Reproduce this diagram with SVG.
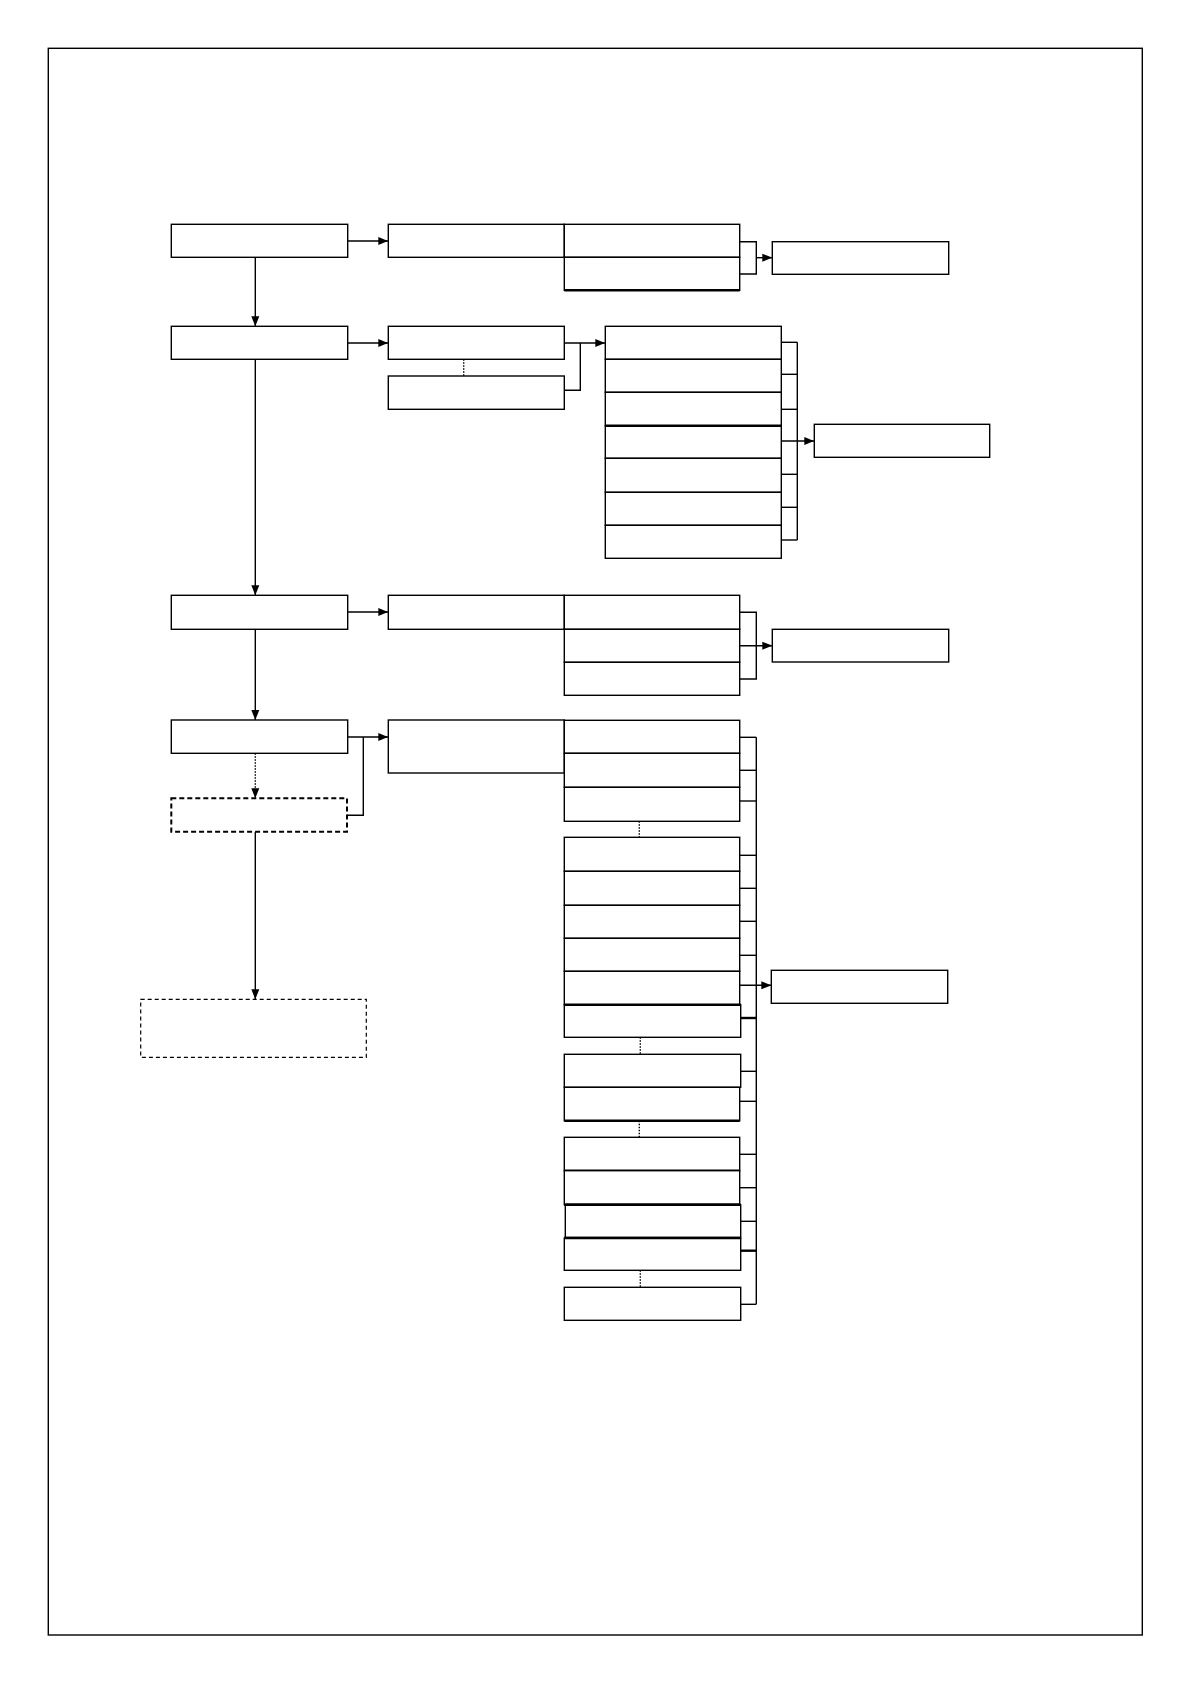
<svg xmlns="http://www.w3.org/2000/svg" width="1191" height="1684" viewBox="0 0 1191 1684">
<style>
.box{fill:#fff;stroke:#000;stroke-width:1.4}
.dash1{fill:#fff;stroke:#000;stroke-width:2;stroke-dasharray:5 3}
.dash2{fill:#fff;stroke:#000;stroke-width:1.2;stroke-dasharray:4 3}
.ln{fill:none;stroke:#000;stroke-width:1.4}
.dot{fill:none;stroke:#000;stroke-width:1.4;stroke-dasharray:1.5 1.5}
.thick{fill:none;stroke:#000;stroke-width:2.4}
.arr{marker-end:url(#ah)}
</style>
<defs>
<marker id="ah" markerUnits="userSpaceOnUse" markerWidth="10" markerHeight="10" viewBox="0 0 10 10" refX="10" refY="5" orient="auto">
<path d="M0,1 L10,5 L0,9 Z" fill="#000" stroke="none"/>
</marker>
</defs>
<rect id="page" x="48.3" y="48.3" width="1094" height="1586.7" fill="none" stroke="#000" stroke-width="1.4"/>

<g id="connectors">
<line class="ln arr" x1="255.3" y1="257.3" x2="255.3" y2="326.3"/>
<line class="ln arr" x1="255.3" y1="359.3" x2="255.3" y2="595.3"/>
<line class="ln arr" x1="255.3" y1="629.3" x2="255.3" y2="720"/>
<line class="dot arr" x1="255.3" y1="753.3" x2="255.3" y2="798.3"/>
<line class="ln arr" x1="255.3" y1="831.7" x2="255.3" y2="999.3"/>
<line class="ln arr" x1="347.7" y1="241" x2="388.3" y2="241"/>
<line class="ln arr" x1="347.7" y1="343" x2="388.3" y2="343"/>
<line class="ln arr" x1="347.7" y1="612" x2="388.3" y2="612"/>
<line class="ln arr" x1="347.7" y1="737" x2="388.3" y2="737"/>
<polyline class="ln" points="347,815.3 363.3,815.3 363.3,737"/>
<line class="dot" x1="463.7" y1="359.3" x2="463.7" y2="376"/>
<line class="ln arr" x1="564.3" y1="343" x2="605.3" y2="343"/>
<polyline class="ln" points="564.3,390.3 580.3,390.3 580.3,343"/>
<polyline class="ln" points="739.7,241.7 756.3,241.7 756.3,274 739.7,274"/>
<line class="ln arr" x1="756.3" y1="257.7" x2="772.3" y2="257.7"/>
<line class="ln" x1="797.3" y1="342.3" x2="797.3" y2="540"/>
<line class="ln" x1="781.3" y1="342.3" x2="797.3" y2="342.3"/>
<line class="ln" x1="781.3" y1="374.3" x2="797.3" y2="374.3"/>
<line class="ln" x1="781.3" y1="409.3" x2="797.3" y2="409.3"/>
<line class="ln" x1="781.3" y1="474.3" x2="797.3" y2="474.3"/>
<line class="ln" x1="781.3" y1="507.3" x2="797.3" y2="507.3"/>
<line class="ln" x1="781.3" y1="540" x2="797.3" y2="540"/>
<line class="ln arr" x1="781.3" y1="441" x2="814.3" y2="441"/>
<polyline class="ln" points="739.7,612.3 756.3,612.3 756.3,679 739.7,679"/>
<line class="ln arr" x1="739.7" y1="645.7" x2="772.3" y2="645.7"/>
<line class="ln" x1="756.3" y1="737.3" x2="756.3" y2="1304.3"/>
<line class="ln" x1="739.7" y1="737.3" x2="756.3" y2="737.3"/>
<line class="ln" x1="739.7" y1="770.3" x2="756.3" y2="770.3"/>
<line class="ln" x1="739.7" y1="801" x2="756.3" y2="801"/>
<line class="ln" x1="739.7" y1="855.3" x2="756.3" y2="855.3"/>
<line class="ln" x1="739.7" y1="888.3" x2="756.3" y2="888.3"/>
<line class="ln" x1="739.7" y1="921.3" x2="756.3" y2="921.3"/>
<line class="ln" x1="739.7" y1="955.3" x2="756.3" y2="955.3"/>
<line class="thick" x1="740.7" y1="1018" x2="756.3" y2="1018"/>
<line class="ln" x1="740.7" y1="1071.3" x2="756.3" y2="1071.3"/>
<line class="ln" x1="739.7" y1="1101.3" x2="756.3" y2="1101.3"/>
<line class="ln" x1="739.7" y1="1154.3" x2="756.3" y2="1154.3"/>
<line class="ln" x1="739.7" y1="1187.7" x2="756.3" y2="1187.7"/>
<line class="ln" x1="740.7" y1="1221.3" x2="756.3" y2="1221.3"/>
<line class="thick" x1="740.7" y1="1250.7" x2="756.3" y2="1250.7"/>
<line class="ln" x1="740.7" y1="1304.3" x2="756.3" y2="1304.3"/>
<line class="ln arr" x1="739.7" y1="985.3" x2="771.3" y2="985.3"/>
<line class="dot" x1="639.3" y1="821.3" x2="639.3" y2="837.3"/>
<line class="dot" x1="640.3" y1="1037.3" x2="640.3" y2="1054.3"/>
<line class="dot" x1="639.3" y1="1120.7" x2="639.3" y2="1137.3"/>
<line class="dot" x1="640.3" y1="1270.3" x2="640.3" y2="1287.3"/>
</g>

<g id="A1"><rect class="box" x="171.3" y="224.3" width="176.4" height="33"/></g>
<g id="A2"><rect class="box" x="171.3" y="326.3" width="176.4" height="33"/></g>
<g id="A3"><rect class="box" x="171.3" y="595.3" width="176.4" height="34"/></g>
<g id="A4"><rect class="box" x="171.3" y="720" width="176.4" height="33.3"/></g>
<g id="A4b"><rect class="dash1" x="171.3" y="798.3" width="175.7" height="33.4"/></g>
<g id="A5"><rect class="dash2" x="140.7" y="999.3" width="225.6" height="58"/></g>

<g id="B1"><rect class="box" x="388.3" y="224.3" width="176" height="33"/></g>
<g id="B2"><rect class="box" x="388.3" y="326.3" width="176" height="33"/></g>
<g id="B2b"><rect class="box" x="388.3" y="376" width="176" height="33.3"/></g>
<g id="B3"><rect class="box" x="388.3" y="595.3" width="176" height="34"/></g>
<g id="B4"><rect class="box" x="388.3" y="720" width="176" height="53"/></g>

<g id="C1-1"><rect class="box" x="564.3" y="224.3" width="175.4" height="33"/></g>
<g id="C1-2"><rect class="box" x="564.3" y="257.3" width="175.4" height="33"/><line class="thick" x1="564.3" y1="290.3" x2="739.7" y2="290.3"/></g>

<g id="C2-1"><rect class="box" x="605.3" y="326.3" width="176" height="33"/></g>
<g id="C2-2"><rect class="box" x="605.3" y="359.3" width="176" height="33"/></g>
<g id="C2-3"><rect class="box" x="605.3" y="392.3" width="176" height="33.4"/></g>
<g id="C2-4"><rect class="box" x="605.3" y="425.7" width="176" height="32.6"/><line class="thick" x1="605.3" y1="425.7" x2="781.3" y2="425.7"/></g>
<g id="C2-5"><rect class="box" x="605.3" y="458.3" width="176" height="34"/></g>
<g id="C2-6"><rect class="box" x="605.3" y="492.3" width="176" height="33"/></g>
<g id="C2-7"><rect class="box" x="605.3" y="525.3" width="176" height="33"/></g>

<g id="C3-1"><rect class="box" x="564.3" y="595.3" width="175.4" height="34"/></g>
<g id="C3-2"><rect class="box" x="564.3" y="629.3" width="175.4" height="33"/></g>
<g id="C3-3"><rect class="box" x="564.3" y="662.3" width="175.4" height="33"/></g>

<g id="C4-1"><rect class="box" x="564.3" y="720.3" width="175.4" height="33"/></g>
<g id="C4-2"><rect class="box" x="564.3" y="753.3" width="175.4" height="34"/></g>
<g id="C4-3"><rect class="box" x="564.3" y="787.3" width="175.4" height="34"/></g>
<g id="C4-4"><rect class="box" x="564.3" y="837.3" width="175.4" height="34"/></g>
<g id="C4-5"><rect class="box" x="564.3" y="871.3" width="175.4" height="34"/></g>
<g id="C4-6"><rect class="box" x="564.3" y="905.3" width="175.4" height="33"/></g>
<g id="C4-7"><rect class="box" x="564.3" y="938.3" width="175.4" height="33"/></g>
<g id="C4-8"><rect class="box" x="564.3" y="971.3" width="175.4" height="33.4"/></g>
<g id="C4-9"><rect class="box" x="564.3" y="1004.7" width="176.4" height="32.6"/><line class="thick" x1="564.3" y1="1004.7" x2="740.7" y2="1004.7"/></g>
<g id="C4-10"><rect class="box" x="564.3" y="1054.3" width="176.4" height="33"/></g>
<g id="C4-11"><rect class="box" x="564.3" y="1087.3" width="175.4" height="33.4"/><line class="thick" x1="564.3" y1="1120.7" x2="739.7" y2="1120.7"/></g>
<g id="C4-12"><rect class="box" x="564.3" y="1137.3" width="175.4" height="33.4"/><line class="thick" x1="564.3" y1="1170.7" x2="739.7" y2="1170.7"/></g>
<g id="C4-13"><rect class="box" x="564.3" y="1170.7" width="175.4" height="34"/><line class="thick" x1="564.3" y1="1204.7" x2="739.7" y2="1204.7"/></g>
<g id="C4-14"><rect class="box" x="565.3" y="1204.7" width="175.4" height="33.3"/><line class="thick" x1="565.3" y1="1204.7" x2="740.7" y2="1204.7"/><line class="thick" x1="564.3" y1="1238" x2="740.7" y2="1238"/></g>
<g id="C4-15"><rect class="box" x="564.3" y="1238" width="176.4" height="32.3"/><line class="thick" x1="564.3" y1="1238" x2="740.7" y2="1238"/></g>
<g id="C4-16"><rect class="box" x="564.3" y="1287.3" width="176.4" height="33"/></g>

<g id="D1"><rect class="box" x="772.3" y="241.7" width="176.4" height="32.6"/></g>
<g id="D2"><rect class="box" x="814.3" y="424.3" width="175.4" height="33"/></g>
<g id="D3"><rect class="box" x="772.3" y="629.3" width="176.4" height="32.7"/></g>
<g id="D4"><rect class="box" x="771.3" y="970.3" width="176.4" height="33"/></g>
</svg>
